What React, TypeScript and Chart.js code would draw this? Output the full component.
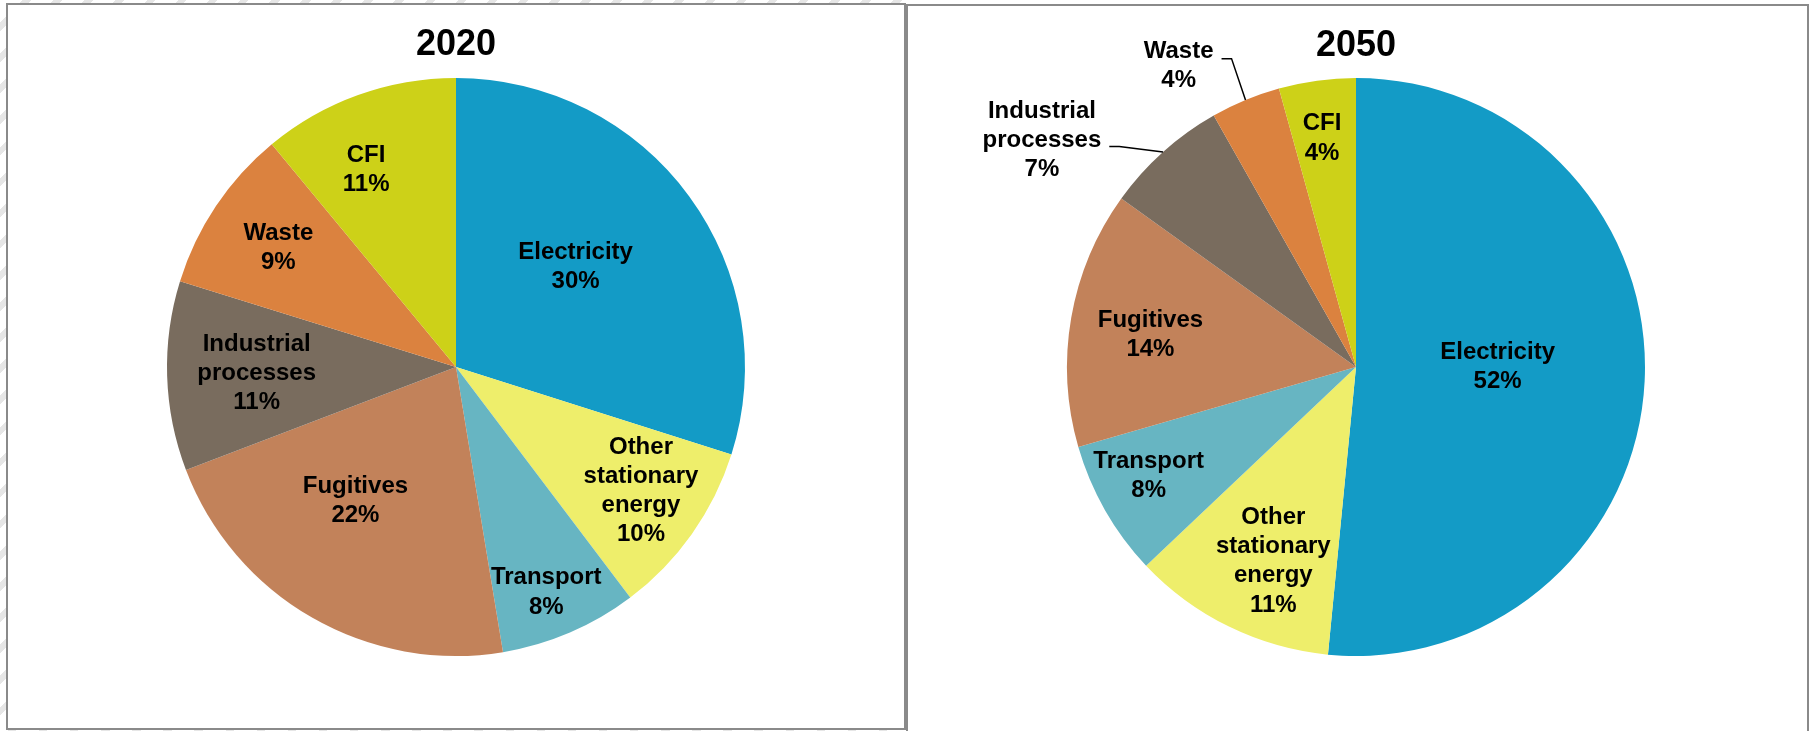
import React, { useEffect, useRef } from "react";
import { Chart, registerables } from "chart.js";

Chart.register(...registerables);

// ---------- data ----------
const categories = [
  "Electricity",
  "Other stationary energy",
  "Transport",
  "Fugitives",
  "Industrial processes",
  "Waste",
  "CFI",
];
const labelLines = [
  ["Electricity"],
  ["Other", "stationary", "energy"],
  ["Transport"],
  ["Fugitives"],
  ["Industrial", "processes"],
  ["Waste"],
  ["CFI"],
];
const values2020 = [29.9, 9.8, 7.7, 21.8, 10.6, 9.2, 11.0];
const values2050 = [51.6, 11.4, 7.6, 14.4, 6.9, 3.9, 4.3];
const sliceColors = [
  "#139BC6",
  "#EEEE6B",
  "#67B5C2",
  "#C2825A",
  "#796C5E",
  "#DB823F",
  "#CDD118",
];

// ---------- label placement (layout, not data) ----------
type Placement = { f: number; da: number; leader?: boolean; leaderDy?: number };
const placement2020: Placement[] = [
  { f: 0.54, da: -3.8 },
  { f: 0.77, da: -1.5 },
  { f: 0.84, da: 1.4 },
  { f: 0.58, da: 7 },
  { f: 0.69, da: 0 },
  { f: 0.74, da: 0 },
  { f: 0.75, da: -4.7 },
];
const placement2050: Placement[] = [
  { f: 0.49, da: -2.7 },
  { f: 0.73, da: -3 },
  { f: 0.81, da: 2.1 },
  { f: 0.72, da: -0.9 },
  { f: 1.34, da: -12.3, leader: true, leaderDy: 6 },
  { f: 1.21, da: -8, leader: true, leaderDy: -7 },
  { f: 0.8, da: -0.7 },
];

const FONT = '"Liberation Sans", Arial, Helvetica, sans-serif';

const sliceLabelPlugin = {
  id: "sliceLabels",
  afterDatasetsDraw(chart: any, _args: any, opts: any) {
    const ctx = chart.ctx;
    const meta = chart.getDatasetMeta(0);
    const data: number[] = chart.data.datasets[0].data;
    const total = data.reduce((a, b) => a + b, 0);
    ctx.save();
    meta.data.forEach((arc: any, i: number) => {
      const { x, y, startAngle, endAngle, outerRadius } = arc.getProps(
        ["x", "y", "startAngle", "endAngle", "outerRadius"],
        true
      );
      const mid = (startAngle + endAngle) / 2;
      const p: Placement = opts.placement[i];
      const a = mid + (p.da * Math.PI) / 180;
      const cx = x + Math.cos(a) * outerRadius * p.f;
      const cy = y + Math.sin(a) * outerRadius * p.f;
      const pct = Math.round((data[i] / total) * 100) + "%";
      const lines = [...opts.lines[i], pct];
      ctx.font = `bold 24px ${FONT}`;
      ctx.fillStyle = "#000";
      ctx.textAlign = "center";
      ctx.textBaseline = "middle";
      const lh = 29.2;
      const top = cy - ((lines.length - 1) * lh) / 2;
      let maxW = 0;
      lines.forEach((t: string, k: number) => {
        ctx.fillText(t, cx, top + k * lh);
        maxW = Math.max(maxW, ctx.measureText(t).width);
      });
      if (p.leader) {
        const sx = cx + maxW / 2 + 8;
        const sy = cy + (p.leaderDy || 0);
        const ex = x + Math.cos(mid) * outerRadius;
        const ey = y + Math.sin(mid) * outerRadius;
        ctx.beginPath();
        ctx.moveTo(sx, sy);
        ctx.lineTo(sx + 10, sy);
        ctx.lineTo(ex, ey);
        ctx.strokeStyle = "#000";
        ctx.lineWidth = 1.5;
        ctx.stroke();
      }
    });
    // title
    const area = chart.chartArea;
    ctx.font = `bold 36px ${FONT}`;
    ctx.fillStyle = "#000";
    ctx.textAlign = "center";
    ctx.textBaseline = "middle";
    ctx.fillText(opts.title, (area.left + area.right) / 2, opts.titleY);
    ctx.restore();
  },
};

function PieChart(props: {
  values: number[];
  title: string;
  placement: Placement[];
  width: number;
  height: number;
  padding: { left: number; right: number; top: number; bottom: number };
  titleY: number;
}) {
  const ref = useRef<HTMLCanvasElement | null>(null);
  useEffect(() => {
    if (!ref.current) return;
    const chart = new Chart(ref.current, {
      type: "pie",
      data: {
        labels: categories,
        datasets: [
          {
            data: props.values,
            backgroundColor: sliceColors,
            borderWidth: 0,
            hoverBorderWidth: 0,
            hoverOffset: 0,
            offset: 0,
          } as any,
        ],
      },
      options: {
        responsive: false,
        animation: false,
        events: [],
        layout: { padding: props.padding },
        plugins: {
          legend: { display: false },
          tooltip: { enabled: false },
          title: { display: false },
          sliceLabels: {
            placement: props.placement,
            lines: labelLines,
            title: props.title,
            titleY: props.titleY,
          },
        } as any,
      },
      plugins: [sliceLabelPlugin],
    });
    return () => chart.destroy();
  }, []);
  return (
    <canvas
      ref={ref}
      width={props.width}
      height={props.height}
      style={{ display: "block", width: props.width, height: props.height }}
    />
  );
}

export default function App() {
  return (
    <div
      style={{
        position: "fixed",
        left: 0,
        top: 0,
        width: 1810,
        height: 731,
        overflow: "hidden",
        background: "#fff",
      }}
    >
      <div
        style={{
          position: "absolute",
          left: 0,
          top: 0,
          width: 906,
          height: 731,
          background:
            "repeating-linear-gradient(135deg, #ffffff 0px, #ffffff 16px, #e6e6e6 16px, #e6e6e6 22px)",
        }}
      />
      <div
        style={{
          position: "absolute",
          left: 6,
          top: 3,
          width: 900,
          height: 727,
          boxSizing: "border-box",
          border: "2px solid #8a8a8a",
          background: "#fff",
        }}
      >
        <PieChart
          values={values2020}
          title="2020"
          placement={placement2020}
          width={896}
          height={723}
          padding={{ left: 159, right: 159, top: 73, bottom: 72 }}
          titleY={40}
        />
      </div>
      <div
        style={{
          position: "absolute",
          left: 906,
          top: 4,
          width: 903,
          height: 740,
          boxSizing: "border-box",
          border: "2px solid #8a8a8a",
          background: "#fff",
        }}
      >
        <PieChart
          values={values2050}
          title="2050"
          placement={placement2050}
          width={899}
          height={736}
          padding={{ left: 159, right: 162, top: 72, bottom: 86 }}
          titleY={40}
        />
      </div>
    </div>
  );
}
